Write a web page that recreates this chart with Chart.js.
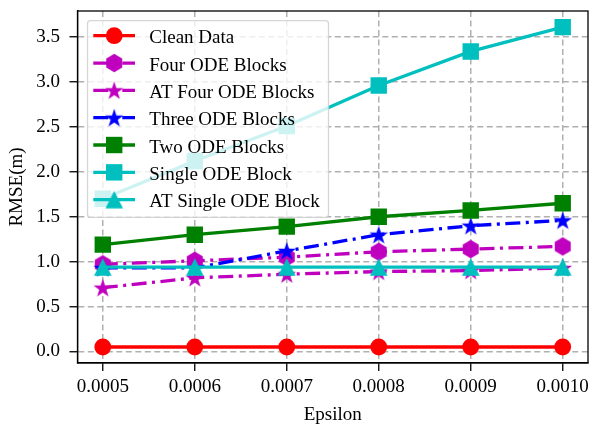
<!DOCTYPE html>
<html lang="en">
<head>
<meta charset="UTF-8">
<title>RMSE vs Epsilon</title>
<script src="https://cdn.jsdelivr.net/npm/chart.js"></script>
<style>
    html, body { margin: 0; padding: 0; background: #fff; overflow: hidden; }
    canvas { display: block; }
</style>
</head>
<body>
<canvas id="chart" width="592" height="428"></canvas>
<script>
// values
const epsilon = [0.0005, 0.0006, 0.0007, 0.0008, 0.0009, 0.0010];
const cleanData = [0.05, 0.05, 0.05, 0.05, 0.05, 0.05];
const fourOde = [0.97, 1.01, 1.05, 1.11, 1.14, 1.17];
const atFourOde = [0.71, 0.82, 0.86, 0.89, 0.90, 0.93];
const threeOde = [0.93, 0.93, 1.12, 1.30, 1.40, 1.46];
const twoOde = [1.19, 1.30, 1.39, 1.50, 1.57, 1.65];
const singleOde = [1.70, 2.12, 2.51, 2.96, 3.34, 3.61];
const atSingleOde = [0.94, 0.94, 0.94, 0.94, 0.94, 0.94];
const xTicks = [0.0005, 0.0006, 0.0007, 0.0008, 0.0009, 0.0010];
const yTicks = [0.0, 0.5, 1.0, 1.5, 2.0, 2.5, 3.0, 3.5];

const FONT = "'Liberation Serif', 'Times New Roman', serif";
const RED = '#ff0000', MAG = '#bf00bf', BLUE = '#0000ff', GREEN = '#008000', CYAN = '#00bfbf';
const DASHDOT = [15, 5.5, 3, 5.5];

// marker images for shapes chart.js does not have
function markerCanvas(draw) {
    const c = document.createElement('canvas');
    c.width = 24; c.height = 24;
    const ctx = c.getContext('2d');
    draw(ctx, 12, 12);
    return c;
}
function hexagon(color) {
    return markerCanvas(function (ctx, cx, cy) {
        ctx.beginPath();
        for (let i = 0; i < 6; i++) {
            const a = -Math.PI / 2 + i * Math.PI / 3;
            ctx.lineTo(cx + 9.2 * Math.cos(a), cy + 9.2 * Math.sin(a));
        }
        ctx.closePath();
        ctx.fillStyle = color;
        ctx.fill();
    });
}
function star(color) {
    return markerCanvas(function (ctx, cx, cy) {
        const R = 9.8, r = R * 0.382;
        ctx.beginPath();
        for (let i = 0; i < 10; i++) {
            const a = -Math.PI / 2 + i * Math.PI / 5;
            const rad = i % 2 === 0 ? R : r;
            ctx.lineTo(cx + rad * Math.cos(a), cy + 0.9 + rad * Math.sin(a));
        }
        ctx.closePath();
        ctx.fillStyle = color;
        ctx.fill();
    });
}
function triangle(color) {
    return markerCanvas(function (ctx, cx, cy) {
        ctx.beginPath();
        ctx.moveTo(cx, cy - 8.8);
        ctx.lineTo(cx + 8.8, cy + 8.8);
        ctx.lineTo(cx - 8.8, cy + 8.8);
        ctx.closePath();
        ctx.fillStyle = color;
        ctx.fill();
    });
}

function series(label, values, color, dash, style, radius) {
    return {
        label: label,
        data: epsilon.map((x, i) => ({ x: x, y: values[i] })),
        borderColor: color,
        backgroundColor: color,
        borderWidth: 3.3,
        borderDash: dash,
        pointStyle: style,
        pointRadius: radius,
        pointHoverRadius: radius,
        pointBorderWidth: 0,
        pointBackgroundColor: color,
        tension: 0
    };
}

const datasets = [
    series('Clean Data', cleanData, RED, [], 'circle', 8.4),
    series('Four ODE Blocks', fourOde, MAG, DASHDOT, hexagon(MAG), 9),
    series('AT Four ODE Blocks', atFourOde, MAG, DASHDOT, star(MAG), 9),
    series('Three ODE Blocks', threeOde, BLUE, DASHDOT, star(BLUE), 9),
    series('Two ODE Blocks', twoOde, GREEN, [], 'rect', 11.6),
    series('Single ODE Block', singleOde, CYAN, [], 'rect', 11.6),
    series('AT Single ODE Block', atSingleOde, CYAN, [], triangle(CYAN), 9)
];
// later series on top, like matplotlib
datasets.forEach((d, i) => { d.order = -i; });

function drawMarker(ctx, ds, x, y) {
    if (ds.pointStyle instanceof HTMLCanvasElement) {
        ctx.drawImage(ds.pointStyle, x - ds.pointStyle.width / 2, y - ds.pointStyle.height / 2);
        return;
    }
    ctx.fillStyle = ds.pointBackgroundColor;
    ctx.beginPath();
    if (ds.pointStyle === 'circle') {
        ctx.arc(x, y, ds.pointRadius, 0, Math.PI * 2);
    } else {
        const s = Math.SQRT1_2 * ds.pointRadius;
        ctx.rect(x - s, y - s, 2 * s, 2 * s);
    }
    ctx.fill();
}

// no extra room for the outer tick labels, the area is fixed
function fixedBox(size) {
    return function (scale) {
        if (scale.isHorizontal()) scale.height = size; else scale.width = size;
        scale.paddingTop = 0;
        scale.paddingBottom = 0;
        scale.paddingLeft = 0;
        scale.paddingRight = 0;
    };
}

const framePlugin = {
    id: 'frameAndLegend',
    afterDraw(chart) {
        const ctx = chart.ctx;
        const a = chart.chartArea;
        ctx.save();
        ctx.strokeStyle = '#000';
        ctx.lineWidth = 1.3;
        ctx.strokeRect(a.left, a.top, a.right - a.left, a.bottom - a.top);

        // legend box, upper left
        const bx = 87.5, by = 20.7, bw = 241, bh = 196.6, rad = 3;
        ctx.beginPath();
        ctx.roundRect(bx, by, bw, bh, rad);
        ctx.fillStyle = 'rgba(255,255,255,0.8)';
        ctx.fill();
        ctx.strokeStyle = 'rgba(204,204,204,0.8)';
        ctx.lineWidth = 1.3;
        ctx.stroke();

        ctx.font = '19px ' + FONT;
        ctx.textBaseline = 'alphabetic';
        ctx.textAlign = 'left';
        chart.data.datasets.forEach((ds, i) => {
            const cy = 35.7 + i * 27.33;
            ctx.beginPath();
            ctx.setLineDash(ds.borderDash);
            ctx.strokeStyle = ds.borderColor;
            ctx.lineWidth = ds.borderWidth;
            ctx.moveTo(93.3, cy);
            ctx.lineTo(135, cy);
            ctx.stroke();
            ctx.setLineDash([]);
            drawMarker(ctx, ds, 114.2, cy);
            ctx.fillStyle = '#000';
            ctx.fillText(ds.label, 149.3, cy + 7.6);
        });
        ctx.restore();
    }
};

document.addEventListener('DOMContentLoaded', function () {
    const ctx = document.getElementById('chart').getContext('2d');
    new Chart(ctx, {
        type: 'line',
        data: { datasets: datasets },
        options: {
            responsive: false,
            animation: false,
            events: [],
            layout: { autoPadding: false, padding: { top: 11, right: 4, left: 0, bottom: 0 } },
            plugins: { legend: { display: false }, tooltip: { enabled: false } },
            scales: {
                x: {
                    type: 'linear',
                    min: 0.0004725,
                    max: 0.0010275,
                    afterBuildTicks: function (scale) {
                        scale.ticks = xTicks.map(v => ({ value: v }));
                    },
                    afterFit: fixedBox(65),
                    ticks: {
                        color: '#000',
                        font: { family: FONT, size: 19 },
                        padding: 4.8,
                        maxRotation: 0,
                        autoSkip: false,
                        callback: function (value) { return value.toFixed(4); }
                    },
                    grid: {
                        color: '#b0b0b0',
                        lineWidth: 1.5,
                        tickLength: 8,
                        tickColor: '#000',
                        tickWidth: 1.3
                    },
                    border: { color: '#000', width: 1.3, dash: [6, 3.5] },
                    title: {
                        display: true,
                        text: 'Epsilon',
                        color: '#000',
                        font: { family: FONT, size: 19 },
                        padding: { top: 0, bottom: 1.6 }
                    }
                },
                y: {
                    min: -0.128,
                    max: 3.79,
                    afterBuildTicks: function (scale) {
                        scale.ticks = yTicks.map(v => ({ value: v }));
                    },
                    afterFit: fixedBox(77.5),
                    ticks: {
                        color: '#000',
                        font: { family: FONT, size: 19 },
                        padding: 9.5,
                        autoSkip: false,
                        callback: function (value) { return value.toFixed(1); }
                    },
                    grid: {
                        color: '#b0b0b0',
                        lineWidth: 1.5,
                        tickLength: 8,
                        tickColor: '#000',
                        tickWidth: 1.3
                    },
                    border: { color: '#000', width: 1.3, dash: [6, 3.5] },
                    title: {
                        display: true,
                        text: 'RMSE(m)',
                        color: '#000',
                        font: { family: FONT, size: 19 },
                        padding: { top: 5.6, bottom: 0 }
                    }
                }
            }
        },
        plugins: [framePlugin]
    });
});
</script>
</body>
</html>
